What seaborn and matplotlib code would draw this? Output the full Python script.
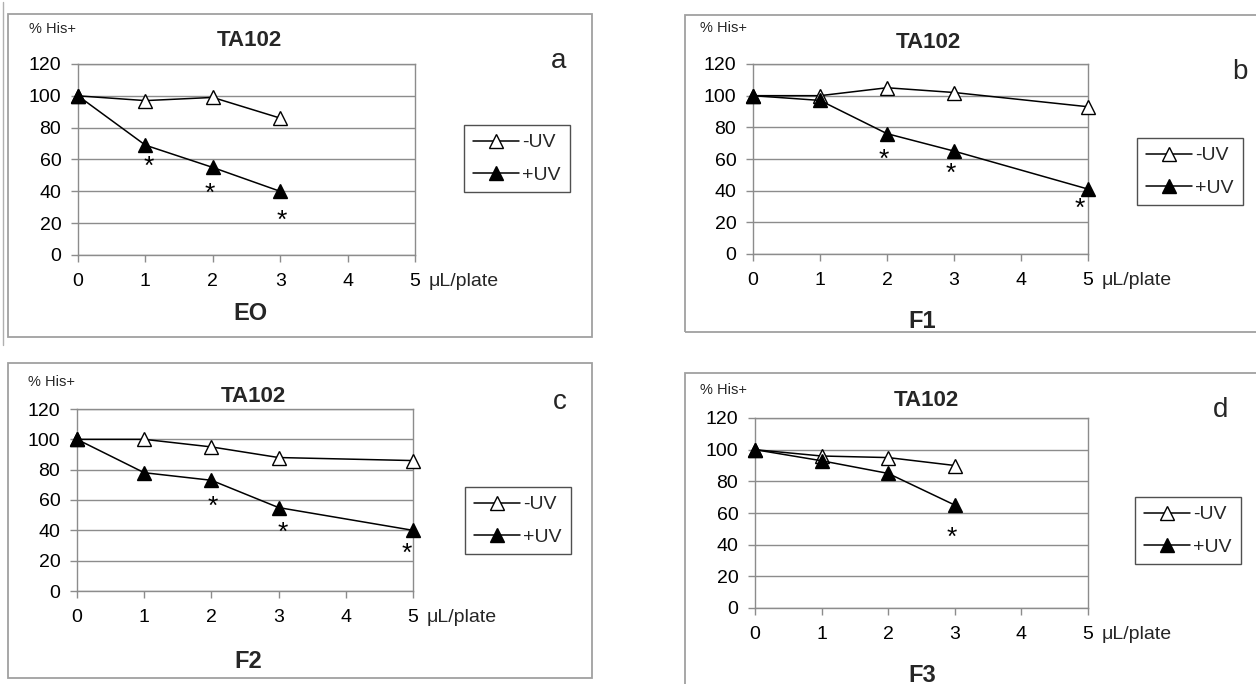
import matplotlib
matplotlib.use("Agg")
import matplotlib.pyplot as plt
import seaborn as sns
import pandas as pd
from matplotlib.patches import Rectangle
from matplotlib.lines import Line2D

sns.set_theme(style="white")
plt.rcParams["font.family"] = ["Liberation Sans", "DejaVu Sans"]

# ---------------- data ----------------
strain = "TA102"
y_label = "% His+"
x_unit = "\u03bcL/plate"
series_names = ["-UV", "+UV"]
x_ticks = [0, 1, 2, 3, 4, 5]
y_ticks = [0, 20, 40, 60, 80, 100, 120]

dose_a = [0, 1, 2, 3]
minus_uv_a = [100, 97, 99, 86]
plus_uv_a = [100, 69, 55, 40]
star_x_a = [1.05, 1.95, 3.02]
star_y_a = [58, 41, 24]

dose_b = [0, 1, 2, 3, 5]
minus_uv_b = [100, 100, 105, 102, 93]
plus_uv_b = [100, 97, 76, 65, 41]
star_x_b = [1.95, 2.95, 4.88]
star_y_b = [62, 53, 31]

dose_c = [0, 1, 2, 3, 5]
minus_uv_c = [100, 100, 95, 88, 86]
plus_uv_c = [100, 78, 73, 55, 40]
star_x_c = [2.02, 3.06, 4.9]
star_y_c = [58, 41, 27]

dose_d = [0, 1, 2, 3]
minus_uv_d = [100, 96, 95, 90]
plus_uv_d = [100, 93, 85, 65]
star_x_d = [2.96]
star_y_d = [47]

panel_letters = ["a", "b", "c", "d"]
sample_names = ["EO", "F1", "F2", "F3"]

# ---------------- layout (pixels) ----------------
W, H = 1256, 684
layout = [
    dict(box=(8, 14, 592, 337), plot=(78, 64, 415, 255), his=(29, 29), title=(249, 41),
         letter=(559, 61), sample=(250, 313), legend=(464, 125)),
    dict(box=(685, 15, 1262, 332), plot=(753, 64, 1088, 254), his=(700, 28), title=(928, 43),
         letter=(1240, 72), sample=(922, 321), legend=(1137, 138)),
    dict(box=(8, 363, 592, 678), plot=(77, 409, 413, 591), his=(28, 382), title=(253, 397),
         letter=(560, 402), sample=(248, 661), legend=(465, 487)),
    dict(box=(685, 373, 1262, 690), plot=(755, 418, 1088, 608), his=(700, 390), title=(926, 400),
         letter=(1221, 410), sample=(922, 675), legend=(1135, 497)),
]

data = [
    (dose_a, minus_uv_a, plus_uv_a, star_x_a, star_y_a),
    (dose_b, minus_uv_b, plus_uv_b, star_x_b, star_y_b),
    (dose_c, minus_uv_c, plus_uv_c, star_x_c, star_y_c),
    (dose_d, minus_uv_d, plus_uv_d, star_x_d, star_y_d),
]

fig = plt.figure(figsize=(W / 100, H / 100), dpi=100)
fig.patch.set_facecolor("white")


def fx(x):
    return x / W


def fy(y):
    return 1 - y / H


# faint double line at far left
fig.add_artist(Line2D([fx(3), fx(3)], [fy(2), fy(345)], transform=fig.transFigure,
                      color="#b0b0b0", lw=1))

GRID = "#8c8c8c"
FS = 14

for i, (lay, (dose, minus, plus, sx, sy)) in enumerate(zip(layout, data)):
    bx0, by0, bx1, by1 = lay["box"]
    fig.add_artist(Rectangle((fx(bx0), fy(by1)), (bx1 - bx0) / W, (by1 - by0) / H,
                             transform=fig.transFigure, fill=False,
                             edgecolor="#a0a0a0", lw=1.3))
    px0, py0, px1, py1 = lay["plot"]
    ax = fig.add_axes([fx(px0), fy(py1), (px1 - px0) / W, (py1 - py0) / H])
    ax.set_facecolor("none")

    df = pd.DataFrame({"dose": dose, "minus": minus, "plus": plus})
    sns.lineplot(data=df, x="dose", y="minus", ax=ax, color="black", lw=1.1,
                 marker="^", markersize=9.5, markerfacecolor="white",
                 markeredgecolor="black", markeredgewidth=1.0,
                 label=series_names[0], clip_on=False, zorder=5)
    sns.lineplot(data=df, x="dose", y="plus", ax=ax, color="black", lw=1.1,
                 marker="^", markersize=9.5, markerfacecolor="black",
                 markeredgecolor="black", markeredgewidth=1.0,
                 label=series_names[1], clip_on=False, zorder=6)

    for x, y in zip(sx, sy):
        ax.annotate("*", xy=(x, y), xycoords="data", xytext=(0, -3),
                    textcoords="offset points", ha="center", va="center",
                    fontsize=19, color="black")

    ax.set_xlim(0, 5)
    ax.set_ylim(0, 120)
    ax.set_xticks(x_ticks)
    ax.set_yticks(y_ticks)
    ax.set_xlabel("")
    ax.set_ylabel("")
    ax.yaxis.grid(True, color=GRID, lw=1)
    ax.xaxis.grid(False)
    ax.set_axisbelow(True)
    for s in ["left", "bottom", "top", "right"]:
        ax.spines[s].set_visible(True)
        ax.spines[s].set_color(GRID)
        ax.spines[s].set_linewidth(1)
    ax.tick_params(axis="both", direction="out", length=5, width=1, color=GRID,
                   labelsize=FS, labelcolor="black")
    ax.tick_params(axis="x", pad=8)
    ax.tick_params(axis="y", pad=7)
    ax.tick_params(left=True, bottom=True)

    ax.annotate(x_unit, xy=(5, 0), xycoords="data", xytext=(10, -13),
                textcoords="offset points", ha="left", va="top", fontsize=FS)

    leg = ax.legend(loc="upper left",
                    bbox_to_anchor=(fx(lay["legend"][0]), fy(lay["legend"][1])),
                    bbox_transform=fig.transFigure, frameon=True, fancybox=False,
                    edgecolor="#505050", framealpha=1, fontsize=FS, handlelength=2.4,
                    handletextpad=0.15, borderpad=0.45, labelspacing=0.75,
                    borderaxespad=0)
    leg.get_frame().set_linewidth(1)

    fig.text(fx(lay["his"][0]), fy(lay["his"][1]), y_label, ha="left", va="center",
             fontsize=10.5)
    fig.text(fx(lay["title"][0]), fy(lay["title"][1]), strain, ha="center", va="center",
             fontsize=16, fontweight="bold")
    fig.text(fx(lay["letter"][0]), fy(lay["letter"][1]), panel_letters[i], ha="center",
             va="center", fontsize=20)
    fig.text(fx(lay["sample"][0]), fy(lay["sample"][1]), sample_names[i], ha="center",
             va="center", fontsize=17, fontweight="bold")

fig.savefig("out.png", dpi=100, facecolor="white")
